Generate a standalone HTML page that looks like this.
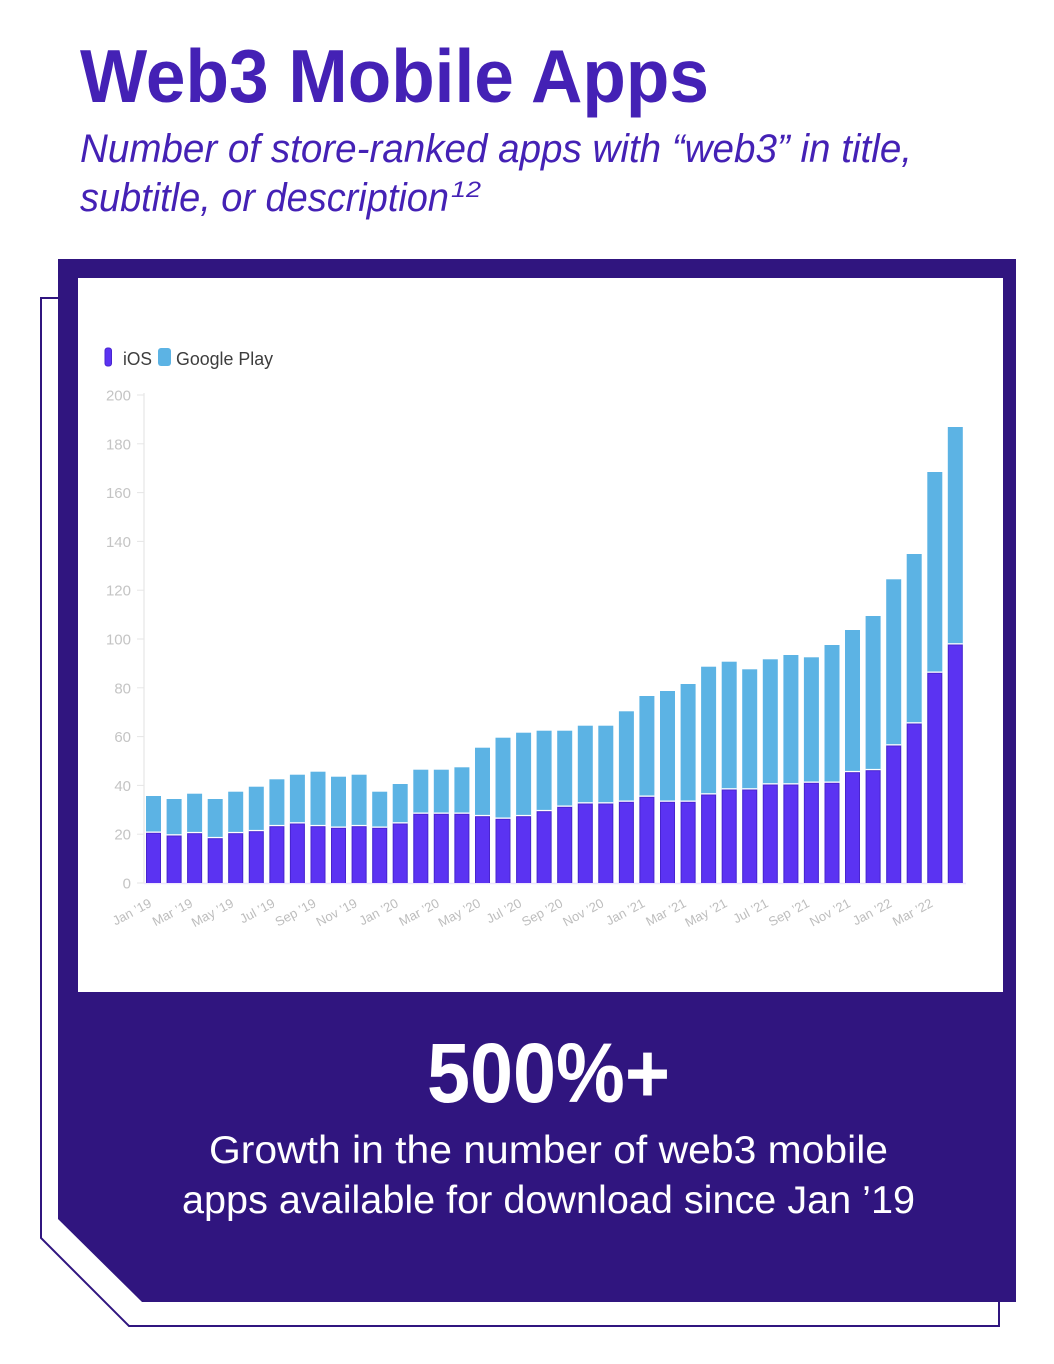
<!DOCTYPE html>
<html><head><meta charset="utf-8"><style>
html,body{margin:0;padding:0;background:#fff;}
svg{display:block;}
.gp{fill:#5cb3e4;}
.wg{fill:#fff;}
.io{fill:#5b33f2;stroke:#4824cf;stroke-width:1;}
.yl{font-family:"Liberation Sans",sans-serif;font-size:15px;fill:#c4c4c4;text-anchor:end;}
.xl{font-family:"Liberation Sans",sans-serif;font-size:13px;fill:#bdbdbd;text-anchor:end;}
</style></head><body>
<svg width="1054" height="1364" viewBox="0 0 1054 1364" xmlns="http://www.w3.org/2000/svg">
<defs><clipPath id="c"><rect x="0" y="0" width="1054" height="883"/></clipPath></defs>
<rect x="0" y="0" width="1054" height="1364" fill="#fff"/>

<!-- Title -->
<text x="80" y="102" font-family="Liberation Sans, sans-serif" font-weight="bold" font-size="75" fill="#4421b5" textLength="629" lengthAdjust="spacingAndGlyphs">Web3 Mobile Apps</text>
<text x="80" y="162" font-family="Liberation Sans, sans-serif" font-style="italic" font-size="40" fill="#4421b5" textLength="832" lengthAdjust="spacingAndGlyphs">Number of store-ranked apps with “web3” in title,</text>
<text x="80" y="211" font-family="Liberation Sans, sans-serif" font-style="italic" font-size="40" fill="#4421b5" textLength="369" lengthAdjust="spacingAndGlyphs">subtitle, or description</text>
<text x="451" y="197" font-family="Liberation Sans, sans-serif" font-style="italic" font-size="22" fill="#4421b5" textLength="30" lengthAdjust="spacingAndGlyphs">12</text>

<!-- Frame -->
<path d="M59,298 H41 V1238 L129,1326 H999 V1298" fill="none" stroke="#30157f" stroke-width="2"/>
<polygon points="58,259 1016,259 1016,1302 142,1302 58,1219" fill="#30157f"/>
<rect x="78" y="278" width="925" height="714" fill="#fff"/>

<!-- Legend -->
<rect x="105" y="348" width="6.5" height="18" rx="2.5" fill="#5b33f2" stroke="#4824cf" stroke-width="1"/>
<text x="123" y="365" font-family="Liberation Sans, sans-serif" font-size="18" fill="#3d3d3d" textLength="29" lengthAdjust="spacingAndGlyphs">iOS</text>
<rect x="158" y="348" width="13" height="18" rx="3" fill="#5cb3e4"/>
<text x="176" y="365" font-family="Liberation Sans, sans-serif" font-size="18" fill="#3d3d3d" textLength="97" lengthAdjust="spacingAndGlyphs">Google Play</text>

<!-- Axes -->
<line x1="144" y1="393" x2="144" y2="883" stroke="#ececec" stroke-width="1.5"/>
<line x1="144" y1="883.5" x2="966" y2="883.5" stroke="#efe6ff" stroke-width="1.5"/>
<g stroke="#e6e6e6" stroke-width="1">
<line x1="137" y1="395" x2="144" y2="395"/>
<line x1="137" y1="443.8" x2="144" y2="443.8"/>
<line x1="137" y1="492.6" x2="144" y2="492.6"/>
<line x1="137" y1="541.4" x2="144" y2="541.4"/>
<line x1="137" y1="590.2" x2="144" y2="590.2"/>
<line x1="137" y1="639" x2="144" y2="639"/>
<line x1="137" y1="687.8" x2="144" y2="687.8"/>
<line x1="137" y1="736.6" x2="144" y2="736.6"/>
<line x1="137" y1="785.4" x2="144" y2="785.4"/>
<line x1="137" y1="834.2" x2="144" y2="834.2"/>
<line x1="137" y1="883" x2="144" y2="883"/>
</g>
<text class="yl" x="131" y="400.5">200</text>
<text class="yl" x="131" y="449.3">180</text>
<text class="yl" x="131" y="498.1">160</text>
<text class="yl" x="131" y="546.9">140</text>
<text class="yl" x="131" y="595.7">120</text>
<text class="yl" x="131" y="644.5">100</text>
<text class="yl" x="131" y="693.3">80</text>
<text class="yl" x="131" y="742.1">60</text>
<text class="yl" x="131" y="790.9">40</text>
<text class="yl" x="131" y="839.7">20</text>
<text class="yl" x="131" y="888.5">0</text>

<!-- Bars -->
<g clip-path="url(#c)">
<rect class="gp" x="146" y="796" width="15" height="500"/><rect class="wg" x="146" y="831.5" width="15" height="500"/><rect class="io" x="146.5" y="833.3" width="14" height="500"/>
<rect class="gp" x="166.6" y="799" width="15" height="500"/><rect class="wg" x="166.6" y="834.2" width="15" height="500"/><rect class="io" x="167.1" y="836" width="14" height="500"/>
<rect class="gp" x="187.1" y="793.7" width="15" height="500"/><rect class="wg" x="187.1" y="831.9" width="15" height="500"/><rect class="io" x="187.6" y="833.7" width="14" height="500"/>
<rect class="gp" x="207.7" y="799" width="15" height="500"/><rect class="wg" x="207.7" y="836.9" width="15" height="500"/><rect class="io" x="208.2" y="838.7" width="14" height="500"/>
<rect class="gp" x="228.2" y="791.7" width="15" height="500"/><rect class="wg" x="228.2" y="831.9" width="15" height="500"/><rect class="io" x="228.7" y="833.7" width="14" height="500"/>
<rect class="gp" x="248.8" y="786.7" width="15" height="500"/><rect class="wg" x="248.8" y="829.9" width="15" height="500"/><rect class="io" x="249.3" y="831.7" width="14" height="500"/>
<rect class="gp" x="269.4" y="779.3" width="15" height="500"/><rect class="wg" x="269.4" y="824.9" width="15" height="500"/><rect class="io" x="269.9" y="826.7" width="14" height="500"/>
<rect class="gp" x="289.9" y="774.7" width="15" height="500"/><rect class="wg" x="289.9" y="822.2" width="15" height="500"/><rect class="io" x="290.4" y="824" width="14" height="500"/>
<rect class="gp" x="310.5" y="771.7" width="15" height="500"/><rect class="wg" x="310.5" y="824.9" width="15" height="500"/><rect class="io" x="311" y="826.7" width="14" height="500"/>
<rect class="gp" x="331" y="776.7" width="15" height="500"/><rect class="wg" x="331" y="826.5" width="15" height="500"/><rect class="io" x="331.5" y="828.3" width="14" height="500"/>
<rect class="gp" x="351.6" y="774.7" width="15" height="500"/><rect class="wg" x="351.6" y="824.9" width="15" height="500"/><rect class="io" x="352.1" y="826.7" width="14" height="500"/>
<rect class="gp" x="372.2" y="791.7" width="15" height="500"/><rect class="wg" x="372.2" y="826.5" width="15" height="500"/><rect class="io" x="372.7" y="828.3" width="14" height="500"/>
<rect class="gp" x="392.7" y="784" width="15" height="500"/><rect class="wg" x="392.7" y="822.2" width="15" height="500"/><rect class="io" x="393.2" y="824" width="14" height="500"/>
<rect class="gp" x="413.3" y="769.7" width="15" height="500"/><rect class="wg" x="413.3" y="812.5" width="15" height="500"/><rect class="io" x="413.8" y="814.3" width="14" height="500"/>
<rect class="gp" x="433.8" y="769.7" width="15" height="500"/><rect class="wg" x="433.8" y="812.5" width="15" height="500"/><rect class="io" x="434.3" y="814.3" width="14" height="500"/>
<rect class="gp" x="454.4" y="767.3" width="15" height="500"/><rect class="wg" x="454.4" y="812.5" width="15" height="500"/><rect class="io" x="454.9" y="814.3" width="14" height="500"/>
<rect class="gp" x="475" y="747.7" width="15" height="500"/><rect class="wg" x="475" y="814.9" width="15" height="500"/><rect class="io" x="475.5" y="816.7" width="14" height="500"/>
<rect class="gp" x="495.5" y="737.7" width="15" height="500"/><rect class="wg" x="495.5" y="817.5" width="15" height="500"/><rect class="io" x="496" y="819.3" width="14" height="500"/>
<rect class="gp" x="516.1" y="732.7" width="15" height="500"/><rect class="wg" x="516.1" y="814.9" width="15" height="500"/><rect class="io" x="516.6" y="816.7" width="14" height="500"/>
<rect class="gp" x="536.6" y="730.7" width="15" height="500"/><rect class="wg" x="536.6" y="809.9" width="15" height="500"/><rect class="io" x="537.1" y="811.7" width="14" height="500"/>
<rect class="gp" x="557.2" y="730.7" width="15" height="500"/><rect class="wg" x="557.2" y="805.5" width="15" height="500"/><rect class="io" x="557.7" y="807.3" width="14" height="500"/>
<rect class="gp" x="577.8" y="725.7" width="15" height="500"/><rect class="wg" x="577.8" y="802.2" width="15" height="500"/><rect class="io" x="578.3" y="804" width="14" height="500"/>
<rect class="gp" x="598.3" y="725.7" width="15" height="500"/><rect class="wg" x="598.3" y="802.2" width="15" height="500"/><rect class="io" x="598.8" y="804" width="14" height="500"/>
<rect class="gp" x="618.9" y="711.3" width="15" height="500"/><rect class="wg" x="618.9" y="800.5" width="15" height="500"/><rect class="io" x="619.4" y="802.3" width="14" height="500"/>
<rect class="gp" x="639.4" y="696" width="15" height="500"/><rect class="wg" x="639.4" y="795.5" width="15" height="500"/><rect class="io" x="639.9" y="797.3" width="14" height="500"/>
<rect class="gp" x="660" y="691" width="15" height="500"/><rect class="wg" x="660" y="800.5" width="15" height="500"/><rect class="io" x="660.5" y="802.3" width="14" height="500"/>
<rect class="gp" x="680.6" y="684" width="15" height="500"/><rect class="wg" x="680.6" y="800.5" width="15" height="500"/><rect class="io" x="681.1" y="802.3" width="14" height="500"/>
<rect class="gp" x="701.1" y="666.7" width="15" height="500"/><rect class="wg" x="701.1" y="793.2" width="15" height="500"/><rect class="io" x="701.6" y="795" width="14" height="500"/>
<rect class="gp" x="721.7" y="661.7" width="15" height="500"/><rect class="wg" x="721.7" y="788.2" width="15" height="500"/><rect class="io" x="722.2" y="790" width="14" height="500"/>
<rect class="gp" x="742.2" y="669.3" width="15" height="500"/><rect class="wg" x="742.2" y="788.2" width="15" height="500"/><rect class="io" x="742.7" y="790" width="14" height="500"/>
<rect class="gp" x="762.8" y="659.3" width="15" height="500"/><rect class="wg" x="762.8" y="783.2" width="15" height="500"/><rect class="io" x="763.3" y="785" width="14" height="500"/>
<rect class="gp" x="783.4" y="655" width="15" height="500"/><rect class="wg" x="783.4" y="783.2" width="15" height="500"/><rect class="io" x="783.9" y="785" width="14" height="500"/>
<rect class="gp" x="803.9" y="657.3" width="15" height="500"/><rect class="wg" x="803.9" y="781.5" width="15" height="500"/><rect class="io" x="804.4" y="783.3" width="14" height="500"/>
<rect class="gp" x="824.5" y="645" width="15" height="500"/><rect class="wg" x="824.5" y="781.5" width="15" height="500"/><rect class="io" x="825" y="783.3" width="14" height="500"/>
<rect class="gp" x="845" y="630" width="15" height="500"/><rect class="wg" x="845" y="770.9" width="15" height="500"/><rect class="io" x="845.5" y="772.7" width="14" height="500"/>
<rect class="gp" x="865.6" y="616" width="15" height="500"/><rect class="wg" x="865.6" y="768.9" width="15" height="500"/><rect class="io" x="866.1" y="770.7" width="14" height="500"/>
<rect class="gp" x="886.2" y="579.3" width="15" height="500"/><rect class="wg" x="886.2" y="744.2" width="15" height="500"/><rect class="io" x="886.7" y="746" width="14" height="500"/>
<rect class="gp" x="906.7" y="554" width="15" height="500"/><rect class="wg" x="906.7" y="722.2" width="15" height="500"/><rect class="io" x="907.2" y="724" width="14" height="500"/>
<rect class="gp" x="927.3" y="472" width="15" height="500"/><rect class="wg" x="927.3" y="671.5" width="15" height="500"/><rect class="io" x="927.8" y="673.3" width="14" height="500"/>
<rect class="gp" x="947.8" y="427" width="15" height="500"/><rect class="wg" x="947.8" y="643.2" width="15" height="500"/><rect class="io" x="948.3" y="645" width="14" height="500"/>
</g>

<!-- X labels -->
<text class="xl" transform="translate(152.5,906) rotate(-28)">Jan ’19</text>
<text class="xl" transform="translate(193.6,906) rotate(-28)">Mar ’19</text>
<text class="xl" transform="translate(234.7,906) rotate(-28)">May ’19</text>
<text class="xl" transform="translate(275.9,906) rotate(-28)">Jul ’19</text>
<text class="xl" transform="translate(317,906) rotate(-28)">Sep ’19</text>
<text class="xl" transform="translate(358.1,906) rotate(-28)">Nov ’19</text>
<text class="xl" transform="translate(399.2,906) rotate(-28)">Jan ’20</text>
<text class="xl" transform="translate(440.3,906) rotate(-28)">Mar ’20</text>
<text class="xl" transform="translate(481.5,906) rotate(-28)">May ’20</text>
<text class="xl" transform="translate(522.6,906) rotate(-28)">Jul ’20</text>
<text class="xl" transform="translate(563.7,906) rotate(-28)">Sep ’20</text>
<text class="xl" transform="translate(604.8,906) rotate(-28)">Nov ’20</text>
<text class="xl" transform="translate(645.9,906) rotate(-28)">Jan ’21</text>
<text class="xl" transform="translate(687.1,906) rotate(-28)">Mar ’21</text>
<text class="xl" transform="translate(728.2,906) rotate(-28)">May ’21</text>
<text class="xl" transform="translate(769.3,906) rotate(-28)">Jul ’21</text>
<text class="xl" transform="translate(810.4,906) rotate(-28)">Sep ’21</text>
<text class="xl" transform="translate(851.5,906) rotate(-28)">Nov ’21</text>
<text class="xl" transform="translate(892.7,906) rotate(-28)">Jan ’22</text>
<text class="xl" transform="translate(933.8,906) rotate(-28)">Mar ’22</text>

<!-- Bottom stat -->
<text x="427" y="1102" font-family="Liberation Sans, sans-serif" font-weight="bold" font-size="84" fill="#fff" textLength="243" lengthAdjust="spacingAndGlyphs">500%+</text>
<text x="209" y="1163" font-family="Liberation Sans, sans-serif" font-size="39" fill="#fff" textLength="679" lengthAdjust="spacingAndGlyphs">Growth in the number of web3 mobile</text>
<text x="182" y="1213" font-family="Liberation Sans, sans-serif" font-size="39" fill="#fff" textLength="733" lengthAdjust="spacingAndGlyphs">apps available for download since Jan ’19</text>
</svg>
</body></html>
